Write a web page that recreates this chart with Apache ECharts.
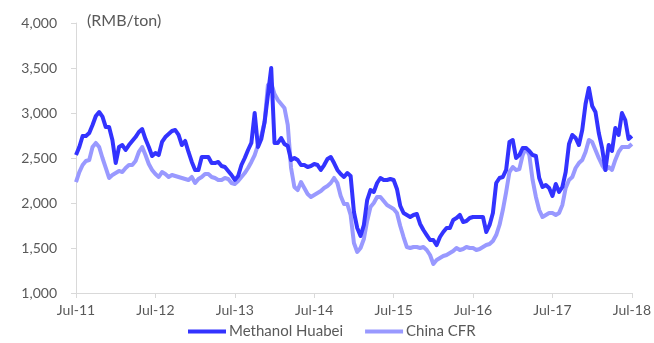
<!DOCTYPE html>
<html>
<head>
<meta charset="utf-8">
<script src="https://cdn.jsdelivr.net/npm/echarts@6/dist/echarts.min.js"></script>
<style>html,body{margin:0;padding:0;background:#fff;}#c{width:654px;height:343px;}</style>
</head>
<body>
<div id="c"></div>
<script>
// Semi-monthly observations, Jul-2011 .. Jul-2018
var startYear = 2011, startMonth = 7, pointsPerMonth = 2, totalPoints = 169;
var tickLabels = ['Jul-11','Jul-12','Jul-13','Jul-14','Jul-15','Jul-16','Jul-17','Jul-18'];
var unitLabel = '(RMB/ton)';
var seriesNames = ['Methanol Huabei', 'China CFR'];

var huabei = [
2533,2622,2744,2744,2778,2867,2967,3011,2960,2844,2844,2700,2444,2622,2644,2589,2644,2689,2733,2789,
2822,2711,2622,2522,2556,2533,2678,2733,2767,2800,2811,2756,2644,2689,2567,2456,2367,2367,2511,2511,
2511,2444,2444,2456,2411,2400,2356,2311,2256,2300,2422,2500,2589,2667,3000,2622,2711,2900,3200,3500,
2667,2667,2722,2656,2633,2478,2500,2478,2422,2422,2400,2411,2433,2422,2367,2422,2489,2511,2444,2367,
2322,2289,2333,2300,1900,1722,1633,1756,2033,2144,2122,2222,2278,2256,2256,2267,2256,2156,1967,1889,
1867,1844,1867,1878,1767,1700,1644,1589,1589,1533,1622,1678,1722,1722,1811,1833,1867,1789,1800,1833,
1844,1844,1844,1844,1678,1756,1889,2222,2278,2289,2367,2678,2700,2500,2533,2611,2611,2578,2533,2522,
2278,2178,2200,2167,2078,2211,2122,2178,2344,2656,2756,2722,2644,2811,3100,3278,3078,3011,2778,2611,
2367,2644,2578,2833,2756,3000,2922,2711,2744
];
var chinaCfr = [
2233,2344,2422,2467,2478,2622,2667,2622,2500,2389,2278,2311,2333,2356,2344,2389,2422,2422,2467,2567,
2622,2533,2433,2367,2322,2289,2344,2322,2289,2311,2300,2289,2278,2267,2256,2289,2222,2267,2289,2322,
2322,2289,2278,2256,2256,2278,2267,2222,2211,2244,2289,2333,2389,2456,2533,2644,2744,2900,3311,3333,
3211,3144,3100,3056,2867,2389,2178,2144,2233,2167,2100,2067,2089,2111,2133,2167,2189,2222,2278,2222,
2078,1989,1989,1867,1556,1456,1500,1600,1800,1956,2000,2067,2067,2022,1978,1956,1933,1889,1744,1622,
1511,1500,1511,1511,1500,1511,1478,1422,1322,1367,1389,1411,1422,1444,1467,1500,1478,1489,1511,1500,
1500,1478,1489,1511,1533,1544,1578,1644,1756,1922,2122,2344,2400,2367,2378,2533,2611,2533,2256,2067,
1922,1844,1867,1889,1889,1867,1889,1978,2167,2256,2289,2389,2444,2478,2567,2700,2678,2589,2500,2422,
2367,2400,2367,2478,2567,2622,2622,2622,2656
];

var categories = [];
for (var i = 0; i < totalPoints; i++) {
  var m = startMonth - 1 + Math.floor(i / pointsPerMonth);
  var y = startYear + Math.floor(m / 12);
  var mm = (m % 12) + 1;
  var d = (i % pointsPerMonth === 0) ? '01' : '16';
  categories.push(y + '-' + (mm < 10 ? '0' + mm : mm) + '-' + d);
}
var perYear = 12 * pointsPerMonth;

var font = 'Lato, "Open Sans", sans-serif';
var chart = echarts.init(document.getElementById('c'), null, {renderer: 'canvas'});
chart.setOption({
  animation: false,
  backgroundColor: '#ffffff',
  grid: {left: 76, right: 21, top: 23, bottom: 50, containLabel: false},
  graphic: [{
    type: 'text', left: 87, top: 13,
    style: {text: unitLabel, fill: '#595959', font: '16px ' + font}
  }],
  legend: {
    bottom: -1, left: 183,
    itemWidth: 38, itemHeight: 4, itemGap: 22,
    icon: 'rect',
    textStyle: {color: '#595959', fontSize: 15, fontFamily: font, padding: [0, 0, 0, -2]},
    data: seriesNames
  },
  xAxis: {
    type: 'category',
    data: categories,
    boundaryGap: false,
    axisLine: {show: true, lineStyle: {color: '#d9d9d9', width: 1}},
    axisTick: {show: true, length: 5, lineStyle: {color: '#d9d9d9'},
      interval: function (idx) { return idx % perYear === 0; }},
    axisLabel: {
      color: '#595959', fontSize: 14, fontFamily: font, margin: 10,
      interval: function (idx) { return idx % perYear === 0; },
      formatter: function (v, idx) { return tickLabels[Math.round(idx / perYear)]; }
    },
    splitLine: {show: false}
  },
  yAxis: {
    type: 'value',
    min: 1000, max: 4000, interval: 500,
    axisLine: {show: true, lineStyle: {color: '#d9d9d9', width: 1}},
    axisTick: {show: true, length: 5, lineStyle: {color: '#d9d9d9'}},
    axisLabel: {
      color: '#595959', fontSize: 14, fontFamily: font, margin: 19,
      formatter: function (v) { return v.toLocaleString('en-US'); }
    },
    splitLine: {show: false}
  },
  series: [
    {
      name: seriesNames[0], type: 'line', data: huabei,
      showSymbol: false, symbol: 'none', z: 3,
      lineStyle: {color: '#3333ff', width: 4, join: 'round'},
      itemStyle: {color: '#3333ff'}
    },
    {
      name: seriesNames[1], type: 'line', data: chinaCfr,
      showSymbol: false, symbol: 'none', z: 2,
      lineStyle: {color: '#9999ff', width: 4, join: 'round'},
      itemStyle: {color: '#9999ff'}
    }
  ]
});
</script>
</body>
</html>
